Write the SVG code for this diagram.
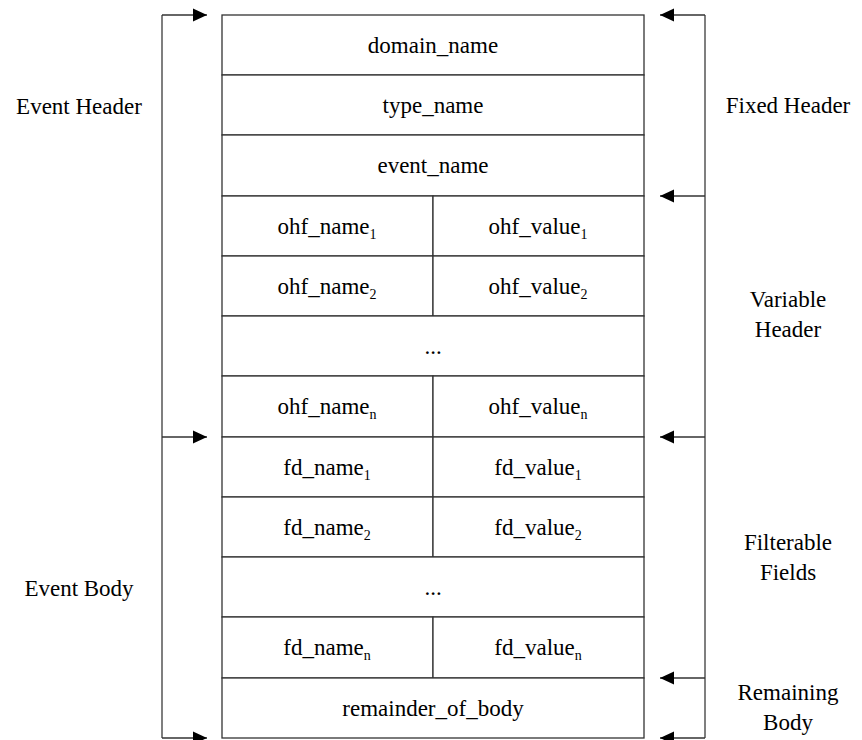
<svg xmlns="http://www.w3.org/2000/svg" width="862" height="740" viewBox="0 0 862 740">
<style>
text{font-family:"Liberation Serif","Times New Roman",serif;font-size:23px;fill:#000;text-anchor:middle}
.sub{font-size:14px}
.cell{fill:#fff;stroke:#333;stroke-width:1.3}
.br{fill:none;stroke:#555;stroke-width:1.5}
.ar{fill:none;stroke:#333;stroke-width:1.5;marker-end:url(#ah)}
</style>
<defs>
<marker id="ah" markerUnits="userSpaceOnUse" markerWidth="16" markerHeight="16" viewBox="0 0 16 16" refX="15" refY="8" orient="auto">
<path d="M1,1.5 L15,8 L1,14.5 Z" fill="#000"/>
</marker>
</defs>
<rect width="862" height="740" fill="#fff"/>
<g id="table">
<g id="row-domain"><rect class="cell" x="222" y="15" width="422" height="60"/><text x="433" y="53">domain_name</text></g>
<g id="row-type"><rect class="cell" x="222" y="75" width="422" height="60"/><text x="433" y="113">type_name</text></g>
<g id="row-event"><rect class="cell" x="222" y="135" width="422" height="61"/><text x="433" y="173">event_name</text></g>
<g id="row-ohf1"><rect class="cell" x="222" y="196" width="211" height="60"/><rect class="cell" x="433" y="196" width="211" height="60"/><text x="327" y="234">ohf_name<tspan class="sub" dy="5">1</tspan></text><text x="538" y="234">ohf_value<tspan class="sub" dy="5">1</tspan></text></g>
<g id="row-ohf2"><rect class="cell" x="222" y="256" width="211" height="60"/><rect class="cell" x="433" y="256" width="211" height="60"/><text x="327" y="294">ohf_name<tspan class="sub" dy="5">2</tspan></text><text x="538" y="294">ohf_value<tspan class="sub" dy="5">2</tspan></text></g>
<g id="row-ohfdots"><rect class="cell" x="222" y="316" width="422" height="60"/><text x="433" y="354">...</text></g>
<g id="row-ohfn"><rect class="cell" x="222" y="376" width="211" height="61"/><rect class="cell" x="433" y="376" width="211" height="61"/><text x="327" y="414">ohf_name<tspan class="sub" dy="5">n</tspan></text><text x="538" y="414">ohf_value<tspan class="sub" dy="5">n</tspan></text></g>
<g id="row-fd1"><rect class="cell" x="222" y="437" width="211" height="60"/><rect class="cell" x="433" y="437" width="211" height="60"/><text x="327" y="475">fd_name<tspan class="sub" dy="5">1</tspan></text><text x="538" y="475">fd_value<tspan class="sub" dy="5">1</tspan></text></g>
<g id="row-fd2"><rect class="cell" x="222" y="497" width="211" height="60"/><rect class="cell" x="433" y="497" width="211" height="60"/><text x="327" y="535">fd_name<tspan class="sub" dy="5">2</tspan></text><text x="538" y="535">fd_value<tspan class="sub" dy="5">2</tspan></text></g>
<g id="row-fddots"><rect class="cell" x="222" y="557" width="422" height="60"/><text x="433" y="595">...</text></g>
<g id="row-fdn"><rect class="cell" x="222" y="617" width="211" height="61"/><rect class="cell" x="433" y="617" width="211" height="61"/><text x="327" y="655">fd_name<tspan class="sub" dy="5">n</tspan></text><text x="538" y="655">fd_value<tspan class="sub" dy="5">n</tspan></text></g>
<g id="row-remainder"><rect class="cell" x="222" y="678" width="422" height="60"/><text x="433" y="716">remainder_of_body</text></g>
</g>
<g id="labels">
<g id="lbl-event-header"><text x="79" y="114">Event Header</text></g>
<g id="lbl-event-body"><text x="79" y="596">Event Body</text></g>
<g id="lbl-fixed-header"><text x="788" y="113">Fixed Header</text></g>
<g id="lbl-variable-header"><text x="788" y="307">Variable</text><text x="788" y="337">Header</text></g>
<g id="lbl-filterable"><text x="788" y="550">Filterable</text><text x="788" y="580">Fields</text></g>
<g id="lbl-remaining"><text x="788" y="700">Remaining</text><text x="788" y="730">Body</text></g>
</g>
<g id="connectors">
<line class="br" x1="162" y1="15" x2="162" y2="738"/>
<line class="br" x1="705" y1="15" x2="705" y2="738"/>
<line class="ar" x1="162" y1="15" x2="207" y2="15"/>
<line class="ar" x1="162" y1="437" x2="207" y2="437"/>
<line class="ar" x1="162" y1="738" x2="207" y2="738"/>
<line class="ar" x1="705" y1="15" x2="660" y2="15"/>
<line class="ar" x1="705" y1="196" x2="660" y2="196"/>
<line class="ar" x1="705" y1="437" x2="660" y2="437"/>
<line class="ar" x1="705" y1="678" x2="660" y2="678"/>
<line class="ar" x1="705" y1="738" x2="660" y2="738"/>
</g>
</svg>
